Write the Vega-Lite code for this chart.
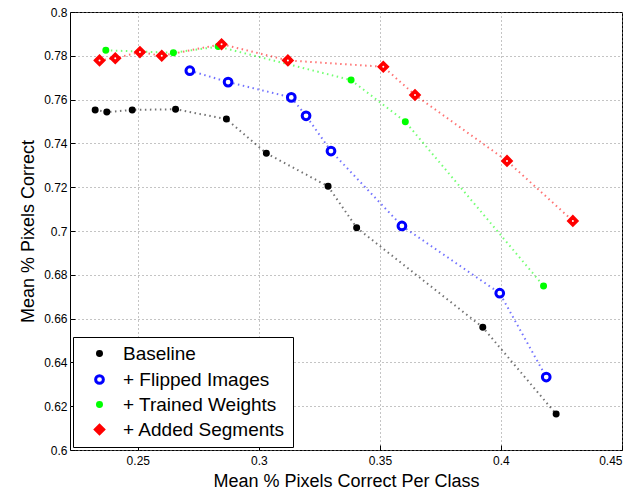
{
  "$schema": "https://vega.github.io/schema/vega-lite/v6.json",
  "autosize": {"type": "none"},
  "padding": {"left": 70, "top": 12, "right": 12, "bottom": 40},
  "width": 552,
  "height": 438,
  "config": {
    "font": "Liberation Sans",
    "view": {"stroke": "#000", "strokeWidth": 1}
  },
  "data": {
    "values": [
      {"s": "Baseline", "x": 0.2324, "y": 0.7553},
      {"s": "Baseline", "x": 0.2372, "y": 0.7543},
      {"s": "Baseline", "x": 0.2477, "y": 0.7553},
      {"s": "Baseline", "x": 0.2656, "y": 0.7556},
      {"s": "Baseline", "x": 0.2866, "y": 0.7511},
      {"s": "Baseline", "x": 0.3031, "y": 0.7355},
      {"s": "Baseline", "x": 0.3286, "y": 0.7204},
      {"s": "Baseline", "x": 0.3404, "y": 0.7015},
      {"s": "Baseline", "x": 0.3925, "y": 0.656},
      {"s": "Baseline", "x": 0.4228, "y": 0.6164},
      {"s": "\u00a0+ Flipped Images", "x": 0.2715, "y": 0.7732},
      {"s": "\u00a0+ Flipped Images", "x": 0.2873, "y": 0.768},
      {"s": "\u00a0+ Flipped Images", "x": 0.3134, "y": 0.761},
      {"s": "\u00a0+ Flipped Images", "x": 0.3195, "y": 0.7526},
      {"s": "\u00a0+ Flipped Images", "x": 0.3298, "y": 0.7365},
      {"s": "\u00a0+ Flipped Images", "x": 0.3591, "y": 0.7023},
      {"s": "\u00a0+ Flipped Images", "x": 0.3995, "y": 0.6716},
      {"s": "\u00a0+ Flipped Images", "x": 0.4187, "y": 0.6333},
      {"s": "\u00a0+ Trained Weights", "x": 0.2368, "y": 0.7825},
      {"s": "\u00a0+ Trained Weights", "x": 0.2647, "y": 0.7814},
      {"s": "\u00a0+ Trained Weights", "x": 0.2832, "y": 0.7842},
      {"s": "\u00a0+ Trained Weights", "x": 0.3381, "y": 0.7689},
      {"s": "\u00a0+ Trained Weights", "x": 0.3605, "y": 0.7499},
      {"s": "\u00a0+ Trained Weights", "x": 0.4176, "y": 0.6749},
      {"s": "\u00a0+ Added Segments", "x": 0.2342, "y": 0.7779},
      {"s": "\u00a0+ Added Segments", "x": 0.2407, "y": 0.7789},
      {"s": "\u00a0+ Added Segments", "x": 0.2509, "y": 0.7817},
      {"s": "\u00a0+ Added Segments", "x": 0.2599, "y": 0.78},
      {"s": "\u00a0+ Added Segments", "x": 0.2846, "y": 0.7853},
      {"s": "\u00a0+ Added Segments", "x": 0.312, "y": 0.7779},
      {"s": "\u00a0+ Added Segments", "x": 0.3514, "y": 0.775},
      {"s": "\u00a0+ Added Segments", "x": 0.3645, "y": 0.7621},
      {"s": "\u00a0+ Added Segments", "x": 0.4025, "y": 0.732},
      {"s": "\u00a0+ Added Segments", "x": 0.4297, "y": 0.7046}
    ]
  },
  "encoding": {
    "x": {
      "field": "x", "type": "quantitative",
      "scale": {"domain": [0.222, 0.45], "nice": false, "zero": false},
      "axis": {
        "title": "Mean % Pixels Correct Per Class",
        "titleFontSize": 18, "titleFontWeight": "normal", "titleColor": "#000", "titlePadding": 6,
        "values": [0.25, 0.3, 0.35, 0.4, 0.45],
        "format": "~g",
        "labelFontSize": 12, "labelColor": "#000", "labelPadding": 10,
        "tickSize": -5, "tickColor": "#000", "domain": false,
        "grid": true, "gridColor": "#888", "gridDash": [1, 3], "gridOpacity": 1
      }
    },
    "y": {
      "field": "y", "type": "quantitative",
      "scale": {"domain": [0.6, 0.8], "nice": false, "zero": false},
      "axis": {
        "title": "Mean % Pixels Correct",
        "titleFontSize": 18, "titleFontWeight": "normal", "titleColor": "#000", "titlePadding": 6,
        "values": [0.6, 0.62, 0.64, 0.66, 0.68, 0.7, 0.72, 0.74, 0.76, 0.78, 0.8],
        "format": "~g",
        "labelFontSize": 12, "labelColor": "#000", "labelPadding": 8,
        "tickSize": -5, "tickColor": "#000", "domain": false,
        "grid": true, "gridColor": "#888", "gridDash": [1, 3], "gridOpacity": 1
      }
    }
  },
  "layer": [
    {
      "mark": {"type": "line", "strokeDash": [1.5, 3.5], "strokeWidth": 2, "opacity": 0.55},
      "encoding": {
        "color": {
          "field": "s", "type": "nominal",
          "scale": {
            "domain": ["Baseline", "\u00a0+ Flipped Images", "\u00a0+ Trained Weights", "\u00a0+ Added Segments"],
            "range": ["#000000", "#0000ff", "#00ff00", "#ff0000"]
          },
          "legend": {
            "title": null, "orient": "bottom-left", "offset": 3,
            "fillColor": "#fff", "strokeColor": "#000", "padding": 7,
            "labelFontSize": 19, "labelColor": "#000", "labelOffset": 14, "labelLimit": 400,
            "rowPadding": 5, "symbolOffset": 10, "symbolOpacity": 1,
            "symbolSize": 70, "symbolStrokeWidth": 3
          }
        }
      }
    },
    {
      "mark": {"type": "point", "opacity": 1},
      "encoding": {
        "shape": {
          "field": "s", "type": "nominal",
          "scale": {
            "domain": ["Baseline", "\u00a0+ Flipped Images", "\u00a0+ Trained Weights", "\u00a0+ Added Segments"],
            "range": ["circle", "circle", "circle", "diamond"]
          },
          "legend": {
            "title": null, "orient": "bottom-left", "offset": 3,
            "fillColor": "#fff", "strokeColor": "#000", "padding": 7,
            "labelFontSize": 19, "labelColor": "#000", "labelOffset": 14, "labelLimit": 400,
            "rowPadding": 5, "symbolOffset": 10, "symbolOpacity": 1,
            "symbolSize": 70, "symbolStrokeWidth": 3
          }
        },
        "fill": {
          "field": "s", "type": "nominal", "legend": null,
          "scale": {
            "domain": ["Baseline", "\u00a0+ Flipped Images", "\u00a0+ Trained Weights", "\u00a0+ Added Segments"],
            "range": ["#000000", "#ffffff", "#00ff00", "#ff0000"]
          }
        },
        "stroke": {
          "field": "s", "type": "nominal", "legend": null,
          "scale": {
            "domain": ["Baseline", "\u00a0+ Flipped Images", "\u00a0+ Trained Weights", "\u00a0+ Added Segments"],
            "range": ["#000000", "#0000ff", "#00ff00", "#ff0000"]
          }
        },
        "size": {
          "field": "s", "type": "nominal", "legend": null,
          "scale": {
            "type": "ordinal",
            "domain": ["Baseline", "\u00a0+ Flipped Images", "\u00a0+ Trained Weights", "\u00a0+ Added Segments"],
            "range": [30, 60, 30, 110]
          }
        },
        "strokeWidth": {
          "field": "s", "type": "nominal", "legend": null,
          "scale": {
            "type": "ordinal",
            "domain": ["Baseline", "\u00a0+ Flipped Images", "\u00a0+ Trained Weights", "\u00a0+ Added Segments"],
            "range": [1.5, 3, 1.5, 1.5]
          }
        }
      }
    },
    {
      "transform": [{"filter": "datum.s == '\u00a0+ Added Segments'"}],
      "mark": {"type": "point", "filled": true, "color": "#fff", "size": 4, "opacity": 1}
    }
  ]
}
